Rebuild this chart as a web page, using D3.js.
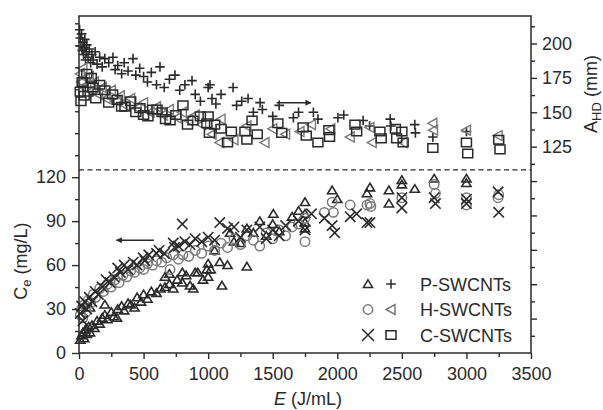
<!DOCTYPE html>
<html><head><meta charset="utf-8">
<script src="https://cdn.jsdelivr.net/npm/d3@7/dist/d3.min.js"></script>
<style>body{margin:0;background:#fff}svg{display:block}text{font-family:"Liberation Sans",Arial,sans-serif}</style>
</head><body><svg id="c" width="603" height="410"></svg>
<script>
// ---------- data ----------
const seriesNames = ["P-SWCNTs","H-SWCNTs","C-SWCNTs"];
const xTicks = [0,500,1000,1500,2000,2500,3000,3500];
const leftTicks = [0,30,60,90,120];
const rightTicks = [125,150,175,200];
// Bottom panel: Ce (mg/L) vs E (J/mL)
const pCe = [[10,9],[20,12],[30,14],[40,10],[50,16],[60,13],[75,18],[85,14],[100,19],[120,17],[140,22],[160,20],[180,24],[200,26],[220,23],[250,28],[270,25],[294,24],[300,30],[330,32],[350,29],[380,34],[400,33],[430,31],[450,38],[480,35],[500,40],[530,37],[560,42],[600,41],[630,44],[666,45],[700,47],[730,44],[760,50],[800,48],[830,53],[860,46],[885,44],[920,55],[960,50],[1000,52],[1020,57],[1107,46],[1150,60],[1300,59],
  [85,31],[200,33],[666,52],[700,54],[800,55],[900,55],[1000,61],[1090,62],[990,57],[1050,70],[1170,82],[1200,76],[1250,75],[1300,85],[1350,82],[1400,90],[1450,80],[1505,95],[1500,88],[1550,83],[1650,93],[1700,97],[1750,85],[1750,89],[1750,95],[1750,103],[1960,111],[2000,105],[2230,109],[2253,113],[2400,111],[2400,102],[2500,118],[2500,115],[2600,112],[2750,119],[3000,119],[3000,116]];
const hCe = [[10,26],[20,30],[30,24],[40,33],[55,28],[70,36],[90,34],[110,40],[130,38],[160,44],[190,42],[220,47],[250,45],[280,50],[310,48],[340,53],[370,52],[400,56],[430,55],[470,58],[500,57],[530,61],[570,60],[600,63],[640,62],[680,65],[705,57],[730,67],[770,64],[805,67],[850,66],[900,70],[950,68],[1000,73],[1050,70],[1100,75],[1150,72],[1200,78],[1250,74],[1300,80],[1350,77],[1400,73],[1450,82],[1500,78],[1550,84],[1600,80],[1650,86],[1700,88],[1750,76],[1750,92],[1900,96],[1960,103],[1970,96],[2100,101],[2230,101],[2253,102],[2260,100],[2500,106],[2750,115],[2760,109],[3000,106],[3000,101],[3245,106],[3250,108]];
const cCe = [[10,27],[20,32],[30,22],[45,35],[60,30],[80,38],[100,35],[125,42],[150,40],[180,45],[210,50],[240,48],[270,52],[300,58],[320,55],[350,60],[380,57],[420,62],[450,60],[497,65],[510,63],[540,67],[600,68],[620,70],[660,68],[730,75],[740,72],[770,73],[800,88],[820,76],[860,74],[900,78],[950,76],[1000,79],[1050,77],[1090,89],[1150,85],[1200,86],[1250,79],[1300,84],[1400,86],[1450,78],[1500,84],[1550,80],[1600,87],[1700,90],[1750,84],[1800,95],[1900,92],[1960,87],[1980,82],[2100,93],[2150,95],[2230,89],[2253,89],[2500,106],[2500,99],[2750,106],[2760,102],[3000,105],[3000,102],[3245,110],[3250,96]];
// Top panel: A_HD (mm) vs E (J/mL)
const pA = [[5,210],[10,204],[15,198],[20,207],[25,195],[30,201],[35,192],[40,197],[45,203],[50,188],[55,194],[60,199],[70,190],[80,196],[90,186],[100,192],[110,188],[125,194],[140,185],[160,190],[180,183],[200,189],[230,186],[263,190],[280,181],[300,184],[330,178],[350,186],[380,180],[418,189],[440,177],[470,182],[500,176],[530,172],[560,179],[600,170],[627,183],[660,168],[700,174],[743,177],[780,166],[820,170],[875,173],[900,163],[940,158],[1000,168],[1014,170],[1030,160],[1060,156],[1100,163],[1193,168],[1220,155],[1260,158],[1309,160],[1350,150],[1402,157],[1420,152],[1500,147],[1550,155],[1660,146],[1700,150],[1815,150],[1850,145],[2005,146],[2050,148],[2200,144],[2250,140],[2410,145],[2415,140],[2600,141],[2605,135],[2740,132],[3000,136]];
const hA = [[10,178],[20,172],[30,182],[40,168],[50,175],[60,170],[80,176],[100,166],[120,172],[150,163],[180,168],[210,160],[250,166],[290,158],[320,162],[360,155],[400,160],[450,153],[500,157],[550,150],[600,154],[650,148],[700,152],[760,146],[800,150],[850,144],[900,148],[950,141],[1030,134],[1090,128],[1100,145],[1200,130],[1300,140],[1440,128],[1500,138],[1600,134],[1711,136],[1800,141],[1950,138],[2100,132],[2253,139],[2270,128],[2510,128],[2740,142],[2745,137],[3000,137],[3245,133]];
const cA = [[10,165],[15,158],[25,172],[40,162],[60,178],[70,165],[95,175],[108,168],[130,160],[160,170],[200,166],[230,157],[260,163],[295,159],[330,154],[356,154],[400,158],[440,150],[472,153],[500,148],[534,147],[570,152],[604,152],[643,150],[670,145],[705,144],[750,148],[805,155],[840,141],[883,144],[940,147],[990,142],[1000,147],[1010,135],[1050,141],[1100,138],[1150,128],[1180,136],[1285,136],[1300,130],[1340,144],[1380,134],[1540,142],[1570,135],[1735,139],[1760,133],[1850,128],[1935,137],[1940,132],[2137,141],[2150,136],[2330,136],[2340,131],[2450,138],[2460,131],[2500,136],[2510,128],[2740,124],[3000,128],[3010,120],[3250,130],[3260,123]];

// ---------- drawing ----------
const svg = d3.select("#c");
const L=79,R=531,T=16,B=353;
const x = d3.scaleLinear([0,3500],[L,R]);
const yL = d3.scaleLinear([0,230],[B,T]);
const yR = d3.scaleLinear([-25,220],[B,T]);
const ink="#2a2a2a", gray="#7a7a7a";

const shapes = {
  tri:  s=>`M0,${-4.2*s}L${4.6*s},${3.4*s}L${-4.6*s},${3.4*s}Z`,
  circ: s=>`M${4.7*s},0A${4.7*s},${4.7*s} 0 1,1 ${-4.7*s},0A${4.7*s},${4.7*s} 0 1,1 ${4.7*s},0Z`,
  plus: s=>`M${-4.8*s},0H${4.8*s}M0,${-4.8*s}V${4.8*s}`,
  ltri: s=>`M${-5*s},0L${4*s},${-5*s}L${4*s},${5*s}Z`,
  cross:s=>`M${-5.2*s},${-5.2*s}L${5.2*s},${5.2*s}M${-5.2*s},${5.2*s}L${5.2*s},${-5.2*s}`,
  sq:   s=>`M${-5*s},${-4.3*s}h${10*s}v${8.6*s}h${-10*s}Z`
};
function plot(data, yS, shape, color, sw){
  svg.append("g").selectAll("path").data(data).join("path")
    .attr("transform",d=>`translate(${x(d[0])},${yS(d[1])})`)
    .attr("d",shapes[shape](1)).attr("fill","none")
    .attr("stroke",color).attr("stroke-width",sw);
}
plot(pA, yR, "plus", ink, 1.6);
plot(hA, yR, "ltri", gray, 1.4);
plot(cA, yR, "sq", ink, 1.5);
plot(pCe, yL, "tri", ink, 1.6);
plot(hCe, yL, "circ", gray, 1.5);
plot(cCe, yL, "cross", ink, 1.6);

// dashed separator at Ce = 125
svg.append("line").attr("x1",L).attr("x2",R).attr("y1",yL(125)).attr("y2",yL(125))
  .attr("stroke",ink).attr("stroke-width",1.3).attr("stroke-dasharray","5,3.5");

// axes
function styleAxis(g){
  g.select(".domain").remove();
  g.selectAll("line").attr("stroke",ink).attr("stroke-width",1.4);
  g.selectAll("text").attr("font-size",18).attr("fill",ink).attr("font-family","Liberation Sans, Arial, sans-serif");
}
svg.append("g").attr("transform",`translate(0,${B})`)
  .call(d3.axisBottom(x).tickValues(xTicks).tickSize(6).tickPadding(8).tickFormat(d3.format("d"))).call(styleAxis);
svg.append("g").attr("transform",`translate(0,${B})`)
  .call(d3.axisBottom(x).tickValues(d3.range(250,3500,500)).tickSize(4).tickFormat("")).call(styleAxis);
svg.append("g").attr("transform",`translate(${L},0)`)
  .call(d3.axisLeft(yL).tickValues(leftTicks).tickSize(7).tickPadding(6)).call(styleAxis);
svg.append("g").attr("transform",`translate(${L},0)`)
  .call(d3.axisLeft(yL).tickValues(d3.range(15,230,15).filter(v=>!leftTicks.includes(v))).tickSize(4).tickFormat("")).call(styleAxis);
svg.append("g").attr("transform",`translate(${R},0)`)
  .call(d3.axisRight(yR).tickValues(d3.range(0,201,25)).tickSize(6).tickPadding(5)
    .tickFormat(d=>rightTicks.includes(d)?d:"")).call(styleAxis);
svg.append("g").attr("transform",`translate(${R},0)`)
  .call(d3.axisRight(yR).tickValues(d3.range(-12.5,220,25)).tickSize(4).tickFormat("")).call(styleAxis);

// frame
svg.append("rect").attr("x",L).attr("y",T).attr("width",R-L).attr("height",B-T)
  .attr("fill","none").attr("stroke",ink).attr("stroke-width",1.5);

// axis titles
const xt = svg.append("text").attr("x",(L+R)/2+3).attr("y",405).attr("text-anchor","middle")
  .attr("font-size",18).attr("fill",ink);
xt.append("tspan").attr("font-style","italic").text("E");
xt.append("tspan").text(" (J/mL)");

const lt = svg.append("text").attr("transform","translate(27,261) rotate(-90)").attr("text-anchor","middle")
  .attr("font-size",18).attr("fill",ink);
lt.append("tspan").text("C");
lt.append("tspan").attr("font-size",13).attr("dy",4).text("e");
lt.append("tspan").attr("dy",-4).text(" (mg/L)");

const rt = svg.append("text").attr("transform","translate(597,94) rotate(-90)").attr("text-anchor","middle")
  .attr("font-size",18).attr("fill",ink);
rt.append("tspan").text("A");
rt.append("tspan").attr("font-size",13).attr("dy",4).text("HD");
rt.append("tspan").attr("dy",-4).text(" (mm)");

// arrows
const defs = svg.append("defs");
defs.append("marker").attr("id","ah").attr("viewBox","0 0 10 10").attr("refX",9).attr("refY",5)
  .attr("markerWidth",8).attr("markerHeight",6).attr("markerUnits","userSpaceOnUse").attr("orient","auto")
  .append("path").attr("d","M0,0L10,5L0,10Z").attr("fill",ink);
svg.append("line").attr("x1",x(1530)).attr("x2",x(1795)).attr("y1",yR(157)).attr("y2",yR(157))
  .attr("stroke",ink).attr("stroke-width",1.5).attr("marker-end","url(#ah)");
svg.append("line").attr("x1",x(580)).attr("x2",x(290)).attr("y1",yL(77)).attr("y2",yL(77))
  .attr("stroke",ink).attr("stroke-width",1.5).attr("marker-end","url(#ah)");

// legend
const legSym = [["tri","plus"],["circ","ltri"],["cross","sq"]];
const legCol = [[ink,ink],[gray,gray],[ink,ink]];
seriesNames.forEach((n,i)=>{
  const yy = 284 + i*25.5;
  svg.append("path").attr("transform",`translate(368,${yy})`).attr("d",shapes[legSym[i][0]](i==2?1.15:1))
    .attr("fill","none").attr("stroke",legCol[i][0]).attr("stroke-width",1.5);
  svg.append("path").attr("transform",`translate(391,${yy})`).attr("d",shapes[legSym[i][1]](1))
    .attr("fill","none").attr("stroke",legCol[i][1]).attr("stroke-width",1.5);
  svg.append("text").attr("x",420).attr("y",yy+6.5).attr("font-size",18).attr("fill",ink).text(n);
});
</script></body></html>
